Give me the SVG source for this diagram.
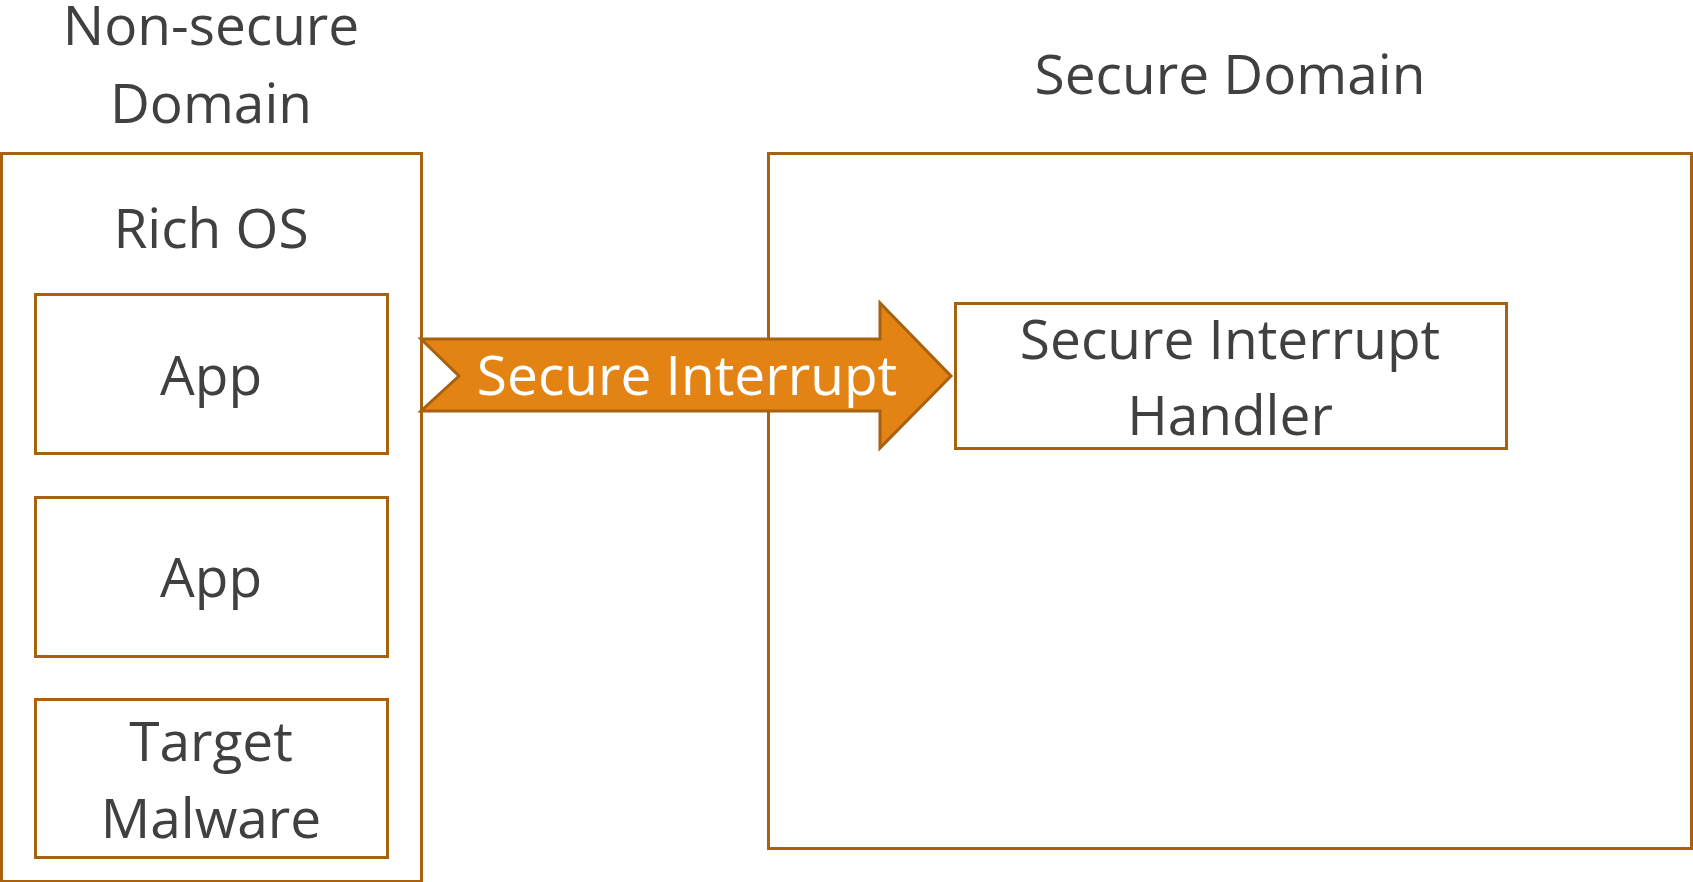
<svg xmlns="http://www.w3.org/2000/svg" width="1693" height="882" viewBox="0 0 1693 882">
<style>
.box{fill:#ffffff;stroke:#A8610F;stroke-width:3}
.t{font-family:"Open Sans","Liberation Sans",sans-serif;font-size:55px;fill:#404040;text-anchor:middle}
.w{fill:#ffffff}
</style>
<rect width="1693" height="882" fill="#ffffff"/>
<g id="nonsecure-domain">
<rect class="box" x="1.5" y="153.5" width="420" height="728"/>
<text class="t" x="211" y="45">Non-secure</text>
<text class="t" x="211" y="123">Domain</text>
<text class="t" x="211" y="248">Rich OS</text>
</g>
<g id="app1">
<rect class="box" x="35.5" y="294.5" width="352" height="159"/>
<text class="t" x="211" y="395">App</text>
</g>
<g id="app2">
<rect class="box" x="35.5" y="497.5" width="352" height="159"/>
<text class="t" x="211" y="597">App</text>
</g>
<g id="target-malware">
<rect class="box" x="35.5" y="699.5" width="352" height="158"/>
<text class="t" x="211" y="761">Target</text>
<text class="t" x="211" y="838">Malware</text>
</g>
<g id="secure-domain">
<rect class="box" x="768.5" y="153.5" width="923" height="695"/>
<text class="t" x="1230" y="94">Secure Domain</text>
</g>
<g id="connectors">
<polygon points="421,339 880,339 880,303 951,376 880,448 880,411 421,411 459,376" fill="#E38314" stroke="#A8610F" stroke-width="3" stroke-linejoin="miter"/>
<text class="t w" x="687" y="395">Secure Interrupt</text>
</g>
<g id="secure-interrupt-handler">
<rect class="box" x="955.5" y="303.5" width="551" height="145"/>
<text class="t" x="1230" y="359">Secure Interrupt</text>
<text class="t" x="1230" y="435">Handler</text>
</g>
</svg>
